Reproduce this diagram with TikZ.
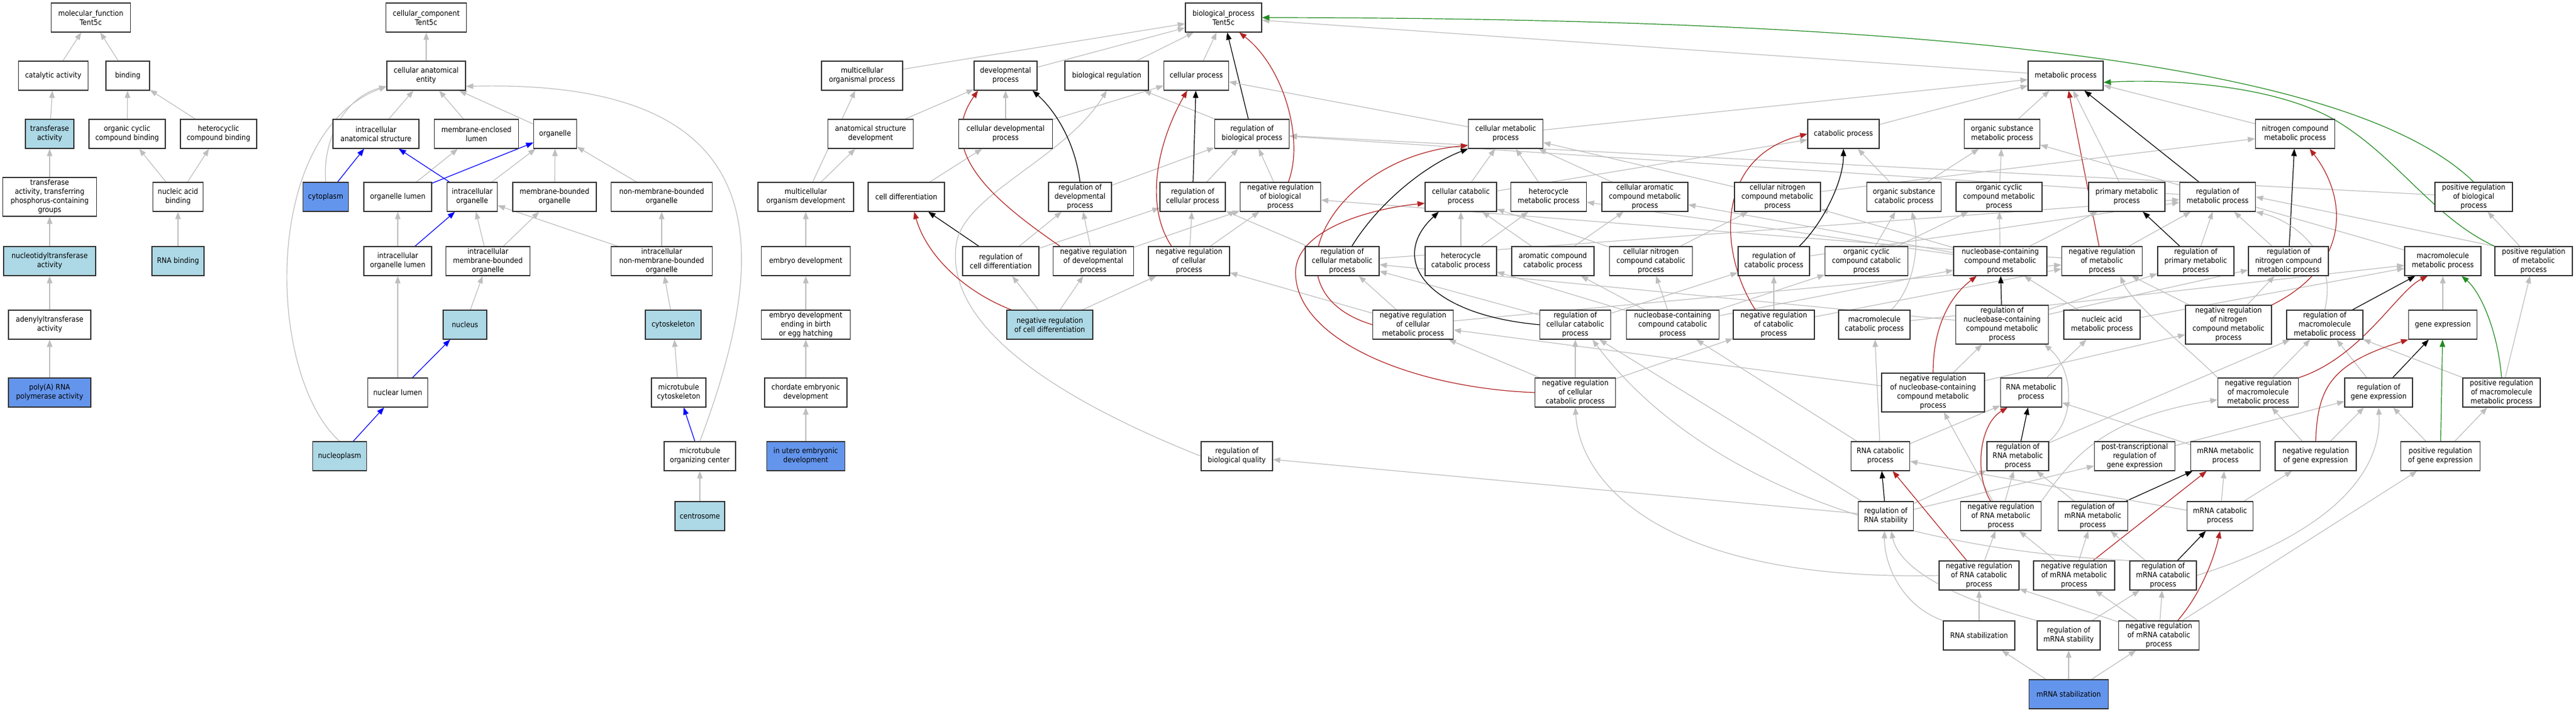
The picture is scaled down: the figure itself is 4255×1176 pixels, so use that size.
\documentclass[tikz,border=0pt]{standalone}
\usepackage{fontspec}
\setmainfont{DejaVu Sans Condensed}
\usetikzlibrary{arrows.meta}
\definecolor{hitblue}{HTML}{ADD8E6}
\definecolor{leafblue}{HTML}{6495ED}
\definecolor{isagray}{HTML}{BEBEBE}
\definecolor{negred}{HTML}{B22222}
\definecolor{posgreen}{HTML}{228B22}
\pgfdeclarelayer{background}
\pgfsetlayers{background,main}
\tikzset{
	>={Triangle[length=12pt,width=9pt]}, % filled arrow heads
	term/.style={draw=black!80, line width=1.2pt, fill=white, align=center, inner sep=1pt, minimum height=48pt, font=\fontsize{12.5}{15}\selectfont}, % one GO term
	hit/.style={term, fill=hitblue}, % annotated terms
	leaf/.style={term, fill=leafblue}, % most specific terms
	isa/.style={->, draw=isagray, line width=1.2pt}, % is_a
	partof/.style={->, draw=blue, line width=1.2pt}, % part_of
	regs/.style={->, draw=black, line width=1.2pt}, % regulates
	negregs/.style={->, draw=negred, line width=1.2pt}, % negatively regulates
	posregs/.style={->, draw=posgreen, line width=1.2pt}, % positively regulates
}
\begin{document}
\begin{tikzpicture}[x=1pt, y=-1pt]
	\useasboundingbox (0,0) rectangle (4255,1176);
	% molecular function
	\node[term, minimum width=131pt] (mf) at (150,29) {molecular\_function\\Tent5c};
	\node[term, minimum width=115pt] (catact) at (88,125) {catalytic activity};
	\node[term, minimum width=72pt] (binding) at (211,125) {binding};
	\node[hit, minimum width=80pt] (transact) at (82,221) {transferase\\activity};
	\node[term, minimum width=126pt] (ocbind) at (210,221) {organic cyclic\\compound binding};
	\node[term, minimum width=126pt] (hcbind) at (361,221) {heterocyclic\\compound binding};
	\node[term, minimum width=155pt, minimum height=64pt] (transphos) at (82,325) {transferase\\activity, transferring\\phosphorus-containing\\groups};
	\node[term, minimum width=83pt] (nabind) at (294,325) {nucleic acid\\binding};
	\node[hit, minimum width=152pt] (nucltrans) at (82,431) {nucleotidyltransferase\\activity};
	\node[hit, minimum width=86pt] (rnabind) at (294,431) {RNA binding};
	\node[term, minimum width=136pt] (adenyl) at (82,536) {adenylyltransferase\\activity};
	\node[leaf, minimum width=136pt] (polya) at (82,648) {poly(A) RNA\\polymerase activity};
	% cellular component
	\node[term, minimum width=133pt] (cc) at (704,29) {cellular\_component\\Tent5c};
	\node[term, minimum width=130pt] (cae) at (704,125) {cellular anatomical\\entity};
	\node[term, minimum width=142pt] (ias) at (621,221) {intracellular\\anatomical structure};
	\node[term, minimum width=139pt] (mel) at (787,221) {membrane-enclosed\\lumen};
	\node[term, minimum width=71pt] (organelle) at (917,221) {organelle};
	\node[leaf, minimum width=75pt] (cytoplasm) at (538,325) {cytoplasm};
	\node[term, minimum width=112pt] (orglumen) at (657,325) {organelle lumen};
	\node[term, minimum width=83pt] (intorg) at (780,325) {intracellular\\organelle};
	\node[term, minimum width=138pt] (mbo) at (916,325) {membrane-bounded\\organelle};
	\node[term, minimum width=167pt] (nmbo) at (1093,325) {non-membrane-bounded\\organelle};
	\node[term, minimum width=112pt] (intorglumen) at (657,431) {intracellular\\organelle lumen};
	\node[term, minimum width=139pt] (intmbo) at (806,431) {intracellular\\membrane-bounded\\organelle};
	\node[term, minimum width=167pt] (intnmbo) at (1093,431) {intracellular\\non-membrane-bounded\\organelle};
	\node[hit, minimum width=72pt] (nucleus) at (768,536) {nucleus};
	\node[hit, minimum width=92pt] (cytoskel) at (1112,536) {cytoskeleton};
	\node[term, minimum width=99pt] (nuclumen) at (657,648) {nuclear lumen};
	\node[term, minimum width=90pt] (mtcyto) at (1121,648) {microtubule\\cytoskeleton};
	\node[hit, minimum width=89pt] (nucleoplasm) at (561,753) {nucleoplasm};
	\node[term, minimum width=118pt] (mtoc) at (1156,753) {microtubule\\organizing center};
	\node[hit, minimum width=82pt] (centrosome) at (1156,852) {centrosome};
	% biological process
	\node[term, minimum width=126pt] (bp) at (2021,29) {biological\_process\\Tent5c};
	\node[term, minimum width=134pt] (mop) at (1424,125) {multicellular\\organismal process};
	\node[term, minimum width=104pt] (devproc) at (1661,125) {developmental\\process};
	\node[term, minimum width=138pt] (bioreg) at (1828,125) {biological regulation};
	\node[term, minimum width=107pt] (cellproc) at (1976,125) {cellular process};
	\node[term, minimum width=124pt] (metab) at (3412,125) {metabolic process};
	\node[term, minimum width=141pt] (asd) at (1438,221) {anatomical structure\\development};
	\node[term, minimum width=155pt] (celldev) at (1661,221) {cellular developmental\\process};
	\node[term, minimum width=123pt] (regbp) at (2068,221) {regulation of\\biological process};
	\node[term, minimum width=123pt] (cellmet) at (2487,221) {cellular metabolic\\process};
	\node[term, minimum width=118pt] (catab) at (3045,221) {catabolic process};
	\node[term, minimum width=125pt] (osmet) at (3307,221) {organic substance\\metabolic process};
	\node[term, minimum width=131pt] (nitmet) at (3791,221) {nitrogen compound\\metabolic process};
	\node[term, minimum width=158pt] (mod) at (1331,325) {multicellular\\organism development};
	\node[term, minimum width=126pt] (celldiff) at (1497,325) {cell differentiation};
	\node[term, minimum width=104pt] (regdev) at (1784,325) {regulation of\\developmental\\process};
	\node[term, minimum width=108pt] (regcellproc) at (1970,325) {regulation of\\cellular process};
	\node[term, minimum width=133pt] (negregbp) at (2115,325) {negative regulation\\of biological\\process};
	\node[term, minimum width=118pt] (cellcat) at (2413,325) {cellular catabolic\\process};
	\node[term, minimum width=125pt] (hetmet) at (2558,325) {heterocycle\\metabolic process};
	\node[term, minimum width=142pt] (caromet) at (2717,325) {cellular aromatic\\compound metabolic\\process};
	\node[term, minimum width=142pt] (cnitmet) at (2936,325) {cellular nitrogen\\compound metabolic\\process};
	\node[term, minimum width=123pt] (oscat) at (3145,325) {organic substance\\catabolic process};
	\node[term, minimum width=142pt] (ocmet) at (3302,325) {organic cyclic\\compound metabolic\\process};
	\node[term, minimum width=126pt] (primet) at (3513,325) {primary metabolic\\process};
	\node[term, minimum width=125pt] (regmet) at (3663,325) {regulation of\\metabolic process};
	\node[term, minimum width=128pt] (posregbp) at (4086,325) {positive regulation\\of biological\\process};
	\node[term, minimum width=147pt] (embdev) at (1331,431) {embryo development};
	\node[term, minimum width=126pt] (regcelldiff) at (1653,431) {regulation of\\cell differentiation};
	\node[term, minimum width=133pt] (negregdev) at (1806,431) {negative regulation\\of developmental\\process};
	\node[term, minimum width=134pt] (negregcellproc) at (1964,431) {negative regulation\\of cellular\\process};
	\node[term, minimum width=122pt] (regcellmet) at (2217,431) {regulation of\\cellular metabolic\\process};
	\node[term, minimum width=118pt] (hetcat) at (2413,431) {heterocycle\\catabolic process};
	\node[term, minimum width=136pt] (aromcat) at (2565,431) {aromatic compound\\catabolic process};
	\node[term, minimum width=137pt] (cnitcat) at (2727,431) {cellular nitrogen\\compound catabolic\\process};
	\node[term, minimum width=118pt] (regcat) at (2930,431) {regulation of\\catabolic process};
	\node[term, minimum width=137pt] (occat) at (3083,431) {organic cyclic\\compound catabolic\\process};
	\node[term, minimum width=154pt] (nucmet) at (3304,431) {nucleobase-containing\\compound metabolic\\process};
	\node[term, minimum width=133pt] (negregmet) at (3472,431) {negative regulation\\of metabolic\\process};
	\node[term, minimum width=126pt] (regprimet) at (3627,431) {regulation of\\primary metabolic\\process};
	\node[term, minimum width=132pt] (regnitmet) at (3780,431) {regulation of\\nitrogen compound\\metabolic process};
	\node[term, minimum width=126pt] (macromet) at (4035,431) {macromolecule\\metabolic process};
	\node[term, minimum width=128pt] (posregmet) at (4185,431) {positive regulation\\of metabolic\\process};
	\node[term, minimum width=147pt] (embdevbirth) at (1331,536) {embryo development\\ending in birth\\or egg hatching};
	\node[hit, minimum width=142pt] (negregcelldiff) at (1734,536) {negative regulation\\of cell differentiation};
	\node[term, minimum width=133pt] (negregcellmet) at (2334,536) {negative regulation\\of cellular\\metabolic process};
	\node[term, minimum width=117pt] (regcellcat) at (2602,536) {regulation of\\cellular catabolic\\process};
	\node[term, minimum width=153pt] (nuccat) at (2763,536) {nucleobase-containing\\compound catabolic\\process};
	\node[term, minimum width=134pt] (negregcat) at (2930,536) {negative regulation\\of catabolic\\process};
	\node[term, minimum width=118pt] (macrocat) at (3096,536) {macromolecule\\catabolic process};
	\node[term, minimum width=153pt, minimum height=64pt] (regnucmet) at (3307,536) {regulation of\\nucleobase-containing\\compound metabolic\\process};
	\node[term, minimum width=126pt] (nametab) at (3472,536) {nucleic acid\\metabolic process};
	\node[term, minimum width=142pt, minimum height=64pt] (negregnitmet) at (3681,536) {negative regulation\\of nitrogen\\compound metabolic\\process};
	\node[term, minimum width=126pt] (regmacromet) at (3840,536) {regulation of\\macromolecule\\metabolic process};
	\node[term, minimum width=113pt] (geneexp) at (4035,536) {gene expression};
	\node[term, minimum width=136pt] (chordemb) at (1331,648) {chordate embryonic\\development};
	\node[term, minimum width=133pt] (negregcellcat) at (2602,648) {negative regulation\\of cellular\\catabolic process};
	\node[term, minimum width=170pt, minimum height=64pt] (negregnucmet) at (3193,648) {negative regulation\\of nucleobase-containing\\compound metabolic\\process};
	\node[term, minimum width=101pt] (rnamet) at (3355,648) {RNA metabolic\\process};
	\node[term, minimum width=133pt] (negregmacromet) at (3730,648) {negative regulation\\of macromolecule\\metabolic process};
	\node[term, minimum width=112pt] (reggeneexp) at (3929,648) {regulation of\\gene expression};
	\node[term, minimum width=128pt] (posregmacromet) at (4132,648) {positive regulation\\of macromolecule\\metabolic process};
	\node[leaf, minimum width=129pt] (inutero) at (1331,753) {in utero embryonic\\development};
	\node[term, minimum width=118pt] (regbq) at (2043,753) {regulation of\\biological quality};
	\node[term, minimum width=97pt] (rnacat) at (3106,753) {RNA catabolic\\process};
	\node[term, minimum width=102pt] (regrnamet) at (3333,753) {regulation of\\RNA metabolic\\process};
	\node[term, minimum width=133pt] (ptgeneexp) at (3526,753) {post-transcriptional\\regulation of\\gene expression};
	\node[term, minimum width=115pt] (mrnamet) at (3676,753) {mRNA metabolic\\process};
	\node[term, minimum width=134pt] (negreggeneexp) at (3825,753) {negative regulation\\of gene expression};
	\node[term, minimum width=131pt] (posreggeneexp) at (4031,753) {positive regulation\\of gene expression};
	\node[term, minimum width=91pt] (regrnastab) at (3115,852) {regulation of\\RNA stability};
	\node[term, minimum width=133pt] (negregrnamet) at (3305,852) {negative regulation\\of RNA metabolic\\process};
	\node[term, minimum width=115pt] (regmrnamet) at (3457,852) {regulation of\\mRNA metabolic\\process};
	\node[term, minimum width=109pt] (mrnacat) at (3667,852) {mRNA catabolic\\process};
	\node[term, minimum width=132pt] (negregrnacat) at (3269,950) {negative regulation\\of RNA catabolic\\process};
	\node[term, minimum width=134pt] (negregmrnamet) at (3426,950) {negative regulation\\of mRNA metabolic\\process};
	\node[term, minimum width=110pt] (regmrnacat) at (3573,950) {regulation of\\mRNA catabolic\\process};
	\node[term, minimum width=118pt] (rnastab) at (3269,1049) {RNA stabilization};
	\node[term, minimum width=104pt] (regmrnastab) at (3417,1049) {regulation of\\mRNA stability};
	\node[term, minimum width=133pt] (negregmrnacat) at (3566,1049) {negative regulation\\of mRNA catabolic\\process};
	\node[leaf, minimum width=131pt] (mrnastab) at (3417,1146) {mRNA stabilization};
	\begin{pgfonlayer}{background}
	\draw (catact) edge[isa] (mf)
		(binding) edge[isa] (mf)
		(transact) edge[isa] (catact)
		(ocbind) edge[isa] (binding)
		(hcbind) edge[isa] (binding)
		(transphos) edge[isa] (transact)
		(nabind) edge[isa] (ocbind)
		(nabind) edge[isa] (hcbind)
		(nucltrans) edge[isa] (transphos)
		(rnabind) edge[isa] (nabind)
		(adenyl) edge[isa] (nucltrans)
		(polya) edge[isa] (adenyl);
	\draw (cae) edge[isa] (cc)
		(ias) edge[isa] (cae)
		(mel) edge[isa] (cae)
		(organelle) edge[isa] (cae)
		(cytoplasm) edge[partof] (ias)
		(orglumen) edge[isa] (mel)
		(orglumen) edge[partof] (organelle)
		(intorg) edge[partof] (ias)
		(intorg) edge[isa] (organelle)
		(mbo) edge[isa] (organelle)
		(nmbo) edge[isa] (organelle)
		(intorglumen) edge[isa] (orglumen)
		(intorglumen) edge[partof] (intorg)
		(intmbo) edge[isa] (intorg)
		(intmbo) edge[isa] (mbo)
		(intnmbo) edge[isa] (intorg)
		(intnmbo) edge[isa] (nmbo)
		(nucleus) edge[isa] (intmbo)
		(cytoskel) edge[isa] (intnmbo)
		(nuclumen) edge[isa] (intorglumen)
		(nuclumen) edge[partof] (nucleus)
		(nucleoplasm) edge[partof] (nuclumen)
		(mtcyto) edge[isa] (cytoskel)
		(mtoc) edge[partof] (mtcyto)
		(centrosome) edge[isa] (mtoc);
	\draw[isa] (cytoplasm.north) .. controls (532,230) and (570,160) .. (cae.195);
	\draw[isa] (nucleoplasm.north) .. controls (440,620) and (430,220) .. (cae.195);
	\draw[isa] (mtoc.north) .. controls (1280,400) and (1280,130) .. (cae.345);
	\draw (mop) edge[isa] (bp)
		(devproc) edge[isa] (bp)
		(bioreg) edge[isa] (bp)
		(cellproc) edge[isa] (bp)
		(regbp) edge[regs] (bp)
		(metab) edge[isa] (bp)
		(asd) edge[isa] (devproc)
		(celldev) edge[isa] (devproc)
		(celldev) edge[isa] (cellproc)
		(mod) edge[isa] (mop)
		(mod) edge[isa] (asd)
		(celldiff) edge[isa] (celldev)
		(regdev) edge[isa] (regbp)
		(negregdev) edge[isa] (regdev)
		(negregdev) edge[isa] (negregbp)
		(regcelldiff) edge[regs] (celldiff)
		(regcelldiff) edge[isa] (regdev)
		(regcelldiff) edge[isa] (regcellproc)
		(negregcelldiff) edge[isa] (regcelldiff)
		(negregcelldiff) edge[isa] (negregdev)
		(negregcelldiff) edge[isa] (negregcellproc)
		(embdev) edge[isa] (mod)
		(embdevbirth) edge[isa] (embdev)
		(chordemb) edge[isa] (embdevbirth)
		(inutero) edge[isa] (chordemb)
		(regbp) edge[isa] (bioreg)
		(regcellproc) edge[isa] (regbp)
		(regcellproc) edge[regs] (cellproc)
		(negregbp) edge[isa] (regbp)
		(negregcellproc) edge[isa] (regcellproc)
		(negregcellproc) edge[isa] (negregbp)
		(cellmet) edge[isa] (cellproc)
		(cellmet) edge[isa] (metab)
		(cellcat) edge[isa] (cellmet)
		(cellcat) edge[isa] (catab)
		(hetmet) edge[isa] (cellmet)
		(caromet) edge[isa] (cellmet)
		(cnitmet) edge[isa] (cellmet)
		(cnitmet) edge[isa] (nitmet)
		(catab) edge[isa] (metab)
		(osmet) edge[isa] (metab)
		(nitmet) edge[isa] (metab)
		(primet) edge[isa] (metab)
		(regmet) edge[regs] (metab)
		(regmet) edge[isa] (regbp)
		(negregmet) edge[negregs] (metab)
		(negregmet) edge[isa] (regmet)
		(negregmet) edge[isa] (negregbp)
		(posregbp) edge[isa] (regbp)
		(posregmet.north west) edge[isa] (regmet.east)
		(posregmet) edge[isa] (posregbp)
		(oscat) edge[isa] (catab)
		(oscat) edge[isa] (osmet)
		(ocmet) edge[isa] (osmet)
		(regcellmet) edge[isa] (regcellproc)
		(regcellmet) edge[isa] (regmet)
		(negregcellmet) edge[isa] (regcellmet)
		(negregcellmet) edge[isa] (negregcellproc)
		(negregcellmet) edge[isa] (negregmet)
		(hetcat) edge[isa] (cellcat)
		(hetcat) edge[isa] (hetmet)
		(aromcat) edge[isa] (cellcat)
		(aromcat) edge[isa] (caromet)
		(cnitcat) edge[isa] (cellcat)
		(cnitcat) edge[isa] (cnitmet)
		(regcat) edge[isa] (regmet)
		(occat) edge[isa] (oscat)
		(occat) edge[isa] (ocmet)
		(nucmet) edge[isa] (hetmet)
		(nucmet) edge[isa] (caromet)
		(nucmet) edge[isa] (cnitmet)
		(nucmet) edge[isa] (ocmet)
		(nucmet) edge[isa] (primet)
		(regprimet) edge[regs] (primet)
		(regprimet) edge[isa] (regmet)
		(regnitmet) edge[regs] (nitmet)
		(regnitmet) edge[isa] (regmet)
		(macromet) edge[isa] (osmet)
		(regcellcat) edge[isa] (regcellmet)
		(regcellcat) edge[isa] (regcat)
		(nuccat) edge[isa] (hetcat)
		(nuccat) edge[isa] (aromcat)
		(nuccat) edge[isa] (cnitcat)
		(nuccat) edge[isa] (occat)
		(nuccat) edge[isa] (nucmet)
		(negregcat) edge[isa] (regcat)
		(negregcat) edge[isa] (negregmet)
		(macrocat) edge[isa] (macromet)
		(regnucmet) edge[regs] (nucmet)
		(regnucmet) edge[isa] (regcellmet)
		(regnucmet) edge[isa] (regprimet)
		(regnucmet) edge[isa] (regnitmet)
		(nametab) edge[isa] (nucmet)
		(nametab) edge[isa] (macromet)
		(negregnitmet) edge[isa] (regnitmet)
		(negregnitmet) edge[isa] (negregmet)
		(regmacromet) edge[regs] (macromet)
		(geneexp) edge[isa] (macromet)
		(negregcellcat) edge[isa] (regcellcat)
		(negregcellcat) edge[isa] (negregcellmet)
		(negregcellcat) edge[isa] (negregcat)
		(negregnucmet) edge[isa] (regnucmet)
		(negregnucmet) edge[isa] (negregcellmet)
		(negregnucmet) edge[isa] (negregnitmet)
		(rnamet) edge[isa] (nametab)
		(negregmacromet) edge[isa] (regmacromet)
		(reggeneexp) edge[regs] (geneexp)
		(reggeneexp) edge[isa] (regmacromet)
		(posregmacromet) edge[isa] (regmacromet)
		(posregmacromet) edge[isa] (posregmet)
		(rnacat) edge[isa] (rnamet)
		(rnacat) edge[isa] (macrocat)
		(rnacat) edge[isa] (nuccat)
		(regrnamet) edge[regs] (rnamet)
		(regrnamet) edge[isa] (regmacromet)
		(ptgeneexp) edge[isa] (reggeneexp)
		(mrnamet) edge[isa] (rnamet)
		(negreggeneexp) edge[isa] (reggeneexp)
		(negreggeneexp) edge[isa] (negregmacromet)
		(posreggeneexp) edge[posregs] (geneexp)
		(posreggeneexp) edge[isa] (reggeneexp)
		(posreggeneexp) edge[isa] (posregmacromet)
		(regrnastab) edge[regs] (rnacat)
		(regrnastab) edge[isa] (regrnamet)
		(regrnastab) edge[isa] (regbq)
		(regrnastab) edge[isa] (ptgeneexp)
		(regrnastab) edge[isa] (regcellcat)
		(negregrnamet) edge[isa] (regrnamet)
		(negregrnamet) edge[isa] (negregnucmet)
		(regmrnamet) edge[regs] (mrnamet)
		(regmrnamet) edge[isa] (regrnamet)
		(mrnacat) edge[isa] (mrnamet)
		(mrnacat) edge[isa] (rnacat)
		(mrnacat) edge[isa] (negreggeneexp)
		(negregrnacat) edge[negregs] (rnacat)
		(negregrnacat) edge[isa] (negregrnamet)
		(negregmrnamet) edge[negregs] (mrnamet)
		(negregmrnamet) edge[isa] (regmrnamet)
		(negregmrnamet) edge[isa] (negregrnamet)
		(regmrnacat) edge[regs] (mrnacat)
		(regmrnacat) edge[isa] (regmrnamet)
		(rnastab) edge[isa] (negregrnacat)
		(regmrnastab) edge[isa] (regmrnacat)
		(negregmrnacat) edge[isa] (regmrnacat)
		(negregmrnacat) edge[isa] (negregmrnamet)
		(negregmrnacat) edge[isa] (posreggeneexp)
		(negregmrnacat) edge[isa] (negregrnacat)
		(mrnastab) edge[isa] (rnastab)
		(mrnastab) edge[isa] (regmrnastab)
		(mrnastab) edge[isa] (negregmrnacat);
	\draw[isa] (regbq.west) .. controls (1700,640) and (1560,520) .. (1580,400) .. controls (1595,320) and (1760,260) .. (bioreg.south);
	\draw[isa] (regmacromet.north) .. controls (3862,420) and (3790,365) .. (regmet.south east);
	\draw[isa] (negregmacromet.north west) .. controls (3620,580) and (3520,500) .. (negregmet.321);
	\draw[isa] (regmrnacat.east) .. controls (3850,880) and (3935,780) .. (reggeneexp.south);
	\draw[isa] (rnastab.north west) .. controls (3140,1000) and (3112,930) .. (regrnastab.265);
	\draw[isa] (regmrnastab.north west) .. controls (3200,980) and (3135,930) .. (regrnastab.290);
	\draw[isa] (negregrnacat.west) .. controls (2750,960) and (2610,800) .. (negregcellcat.south);
	\draw[isa] (regmrnacat.north west) .. controls (3000,900) and (2750,720) .. (regcellcat.319);
	\draw[isa] (regrnamet.north east) .. controls (3430,690) and (3425,610) .. (regnucmet.335);
	\draw[isa] ([xshift=28pt]macrocat.north) .. controls (3165,470) and (3170,400) .. (oscat.298);
	\draw[isa] (negregrnamet.north east) .. controls (3420,760) and (3470,690) .. (negregmacromet.190);
	\draw[regs] ([xshift=42pt]regcat.north) .. controls (3010,370) and (3045,300) .. (catab.south);
	\draw[negregs] ([xshift=13pt]negregbp.north) .. controls (2155,230) and (2120,110) .. ([xshift=26pt]bp.south);
	\draw[negregs] ([xshift=-29pt]negregcellproc.north) .. controls (1885,330) and (1920,220) .. ([xshift=-15pt]cellproc.south);
	\draw[negregs] ([xshift=12pt]negregdev.north west) .. controls (1640,330) and (1545,250) .. ([xshift=7pt]devproc.south west);
	\draw[regs] (regdev.north) .. controls (1775,230) and (1740,180) .. ([xshift=-8pt]devproc.south east);
	\draw[negregs] ([xshift=8pt]negregcelldiff.north west) .. controls (1590,480) and (1530,420) .. ([xshift=13pt]celldiff.south);
	\draw[negregs] (negregcellmet.west) .. controls (2080,480) and (2200,260) .. (cellmet.197);
	\draw[regs] ([xshift=16pt]regcellmet.north) .. controls (2280,330) and (2360,270) .. (cellmet.south west);
	\draw[negregs] (negregcellcat.west) .. controls (2330,640) and (2140,560) .. (2140,450) .. controls (2140,380) and (2260,345) .. (cellcat.190);
	\draw[regs] (regcellcat.west) .. controls (2360,520) and (2290,430) .. (cellcat.214);
	\draw[negregs] ([xshift=37pt]negregcat.north west) .. controls (2840,420) and (2830,260) .. (catab.west);
	\draw[negregs] (negregnucmet.north) .. controls (3193,540) and (3220,490) .. ([xshift=-39pt]nucmet.south);
	\draw[negregs] (negregnitmet.north east) .. controls (3880,440) and (3880,330) .. ([xshift=24pt]nitmet.south);
	\draw[negregs] (negregmacromet.north east) .. controls (3900,590) and (3960,480) .. ([xshift=-25pt]macromet.south);
	\draw[posregs] (posregmacromet.north) .. controls (4125,540) and (4095,480) .. ([xshift=31pt]macromet.south);
	\draw[negregs] (negreggeneexp.north) .. controls (3828,640) and (3850,600) .. (geneexp.south west);
	\draw[negregs] ([xshift=-17pt]negregrnamet.north) .. controls (3260,780) and (3270,700) .. ([xshift=-39pt]rnamet.south);
	\draw[negregs] ([xshift=31pt]negregmrnacat.north) .. controls (3640,975) and (3660,910) .. (mrnacat.south);
	\draw[posregs] (posregmet.north west) .. controls (4020,360) and (3960,260) .. (3860,200) .. controls (3760,140) and (3580,130) .. (metab.350);
	\draw[posregs] (posregbp.north) .. controls (3900,120) and (3300,30) .. (bp.east);
	\end{pgfonlayer}
\end{tikzpicture}
\end{document}
